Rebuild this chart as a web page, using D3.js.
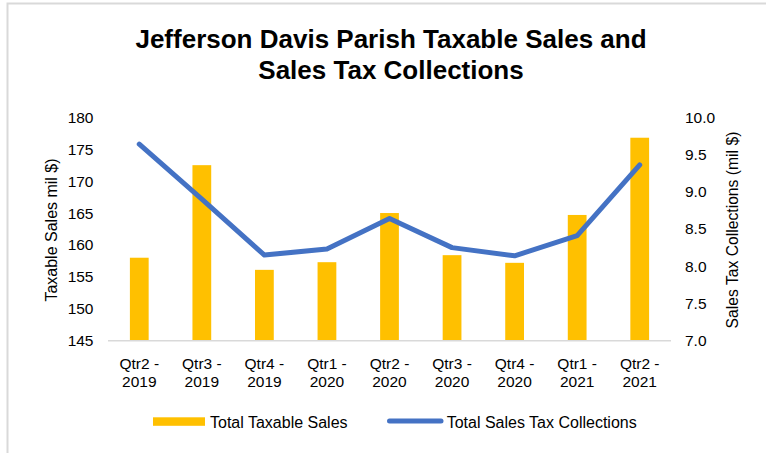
<!DOCTYPE html>
<html>
<head>
<meta charset="utf-8">
<script src="https://cdn.jsdelivr.net/npm/d3@7/dist/d3.min.js"></script>
<style>
  html, body { margin: 0; padding: 0; background: #fff; }
  svg { display: block; font-family: "Liberation Sans", Arial, sans-serif; }
</style>
</head>
<body>
<svg id="chart" width="766" height="453"></svg>
<script>
// Quarterly categories (two-line labels)
const quarters = ["Qtr2 - 2019", "Qtr3 - 2019", "Qtr4 - 2019", "Qtr1 - 2020", "Qtr2 - 2020",
                  "Qtr3 - 2020", "Qtr4 - 2020", "Qtr1 - 2021", "Qtr2 - 2021"];
// Total taxable sales, millions of dollars (left axis)
const taxableSales = [158.0, 172.5, 156.1, 157.3, 165.0, 158.4, 157.2, 164.7, 176.8];
// Total sales tax collections, millions of dollars (right axis)
const taxCollections = [9.64, 8.90, 8.15, 8.23, 8.64, 8.25, 8.14, 8.41, 9.36];
// Axis ticks
const leftTicks = [145, 150, 155, 160, 165, 170, 175, 180];
const rightTicks = [7.0, 7.5, 8.0, 8.5, 9.0, 9.5, 10.0];

const svg = d3.select("#chart");
const barColor = "#FFC000";
const lineColor = "#4472C4";
const fontFamily = "Liberation Sans, Arial, sans-serif";

// Outer chart frame
svg.append("rect")
  .attr("x", 7.5).attr("y", 3.5)
  .attr("width", 800).attr("height", 500)
  .attr("fill", "none").attr("stroke", "#d9d9d9").attr("stroke-width", 2);

// Title
const title = svg.append("text")
  .attr("text-anchor", "middle")
  .attr("font-size", 26).attr("font-weight", "bold").attr("fill", "#000");
title.append("tspan").attr("x", 391).attr("y", 48).text("Jefferson Davis Parish Taxable Sales and");
title.append("tspan").attr("x", 391).attr("y", 79).text("Sales Tax Collections");

const plot = { left: 108, right: 671, top: 117.3, bottom: 340.7 };

const x = d3.scaleBand().domain(quarters).range([plot.left, plot.right]).paddingInner(0.7).paddingOuter(0.35);
const yL = d3.scaleLinear().domain([145, 180]).range([plot.bottom, plot.top]);
const yR = d3.scaleLinear().domain([7, 10]).range([plot.bottom, plot.top]);

// Bars
svg.append("g").selectAll("rect")
  .data(quarters)
  .join("rect")
  .attr("x", d => x(d))
  .attr("width", x.bandwidth())
  .attr("y", (d, i) => yL(taxableSales[i]))
  .attr("height", (d, i) => yL(145) - yL(taxableSales[i]))
  .attr("fill", barColor);

// Category axis line
svg.append("line")
  .attr("x1", plot.left).attr("x2", plot.right)
  .attr("y1", plot.bottom).attr("y2", plot.bottom)
  .attr("stroke", "#d9d9d9").attr("stroke-width", 1.5);

// Category labels (two lines)
const catG = svg.append("g").attr("font-size", 15.5).attr("fill", "#000");
quarters.forEach(q => {
  const parts = q.split(" - ");
  const cx = x(q) + x.bandwidth() / 2;
  const t = catG.append("text").attr("text-anchor", "middle").attr("fill", "#000");
  t.append("tspan").attr("x", cx).attr("y", 368.5).text(parts[0] + " -");
  t.append("tspan").attr("x", cx).attr("y", 386.5).text(parts[1]);
});

// Left axis
const leftAxis = svg.append("g")
  .attr("transform", `translate(93.5,0)`)
  .call(d3.axisLeft(yL).tickValues(leftTicks).tickSize(0).tickPadding(0).tickFormat(d3.format("d")));
leftAxis.select(".domain").remove();
leftAxis.selectAll("text").attr("font-size", 15.5).attr("fill", "#000").attr("font-family", fontFamily);

// Right axis
const rightAxis = svg.append("g")
  .attr("transform", `translate(685,0)`)
  .call(d3.axisRight(yR).tickValues(rightTicks).tickSize(0).tickPadding(0).tickFormat(d3.format(".1f")));
rightAxis.select(".domain").remove();
rightAxis.selectAll("text").attr("font-size", 15.5).attr("fill", "#000").attr("font-family", fontFamily);

// Axis titles
svg.append("text")
  .attr("transform", "translate(57,230) rotate(-90)")
  .attr("text-anchor", "middle").attr("font-size", 16).attr("fill", "#000")
  .text("Taxable Sales mil $)");
svg.append("text")
  .attr("transform", "translate(738,230) rotate(-90)")
  .attr("text-anchor", "middle").attr("font-size", 15.7).attr("fill", "#000")
  .text("Sales Tax Collections (mil $)");

// Collections line
const line = d3.line()
  .x((d, i) => x(quarters[i]) + x.bandwidth() / 2)
  .y(d => yR(d));
svg.append("path")
  .datum(taxCollections)
  .attr("d", line)
  .attr("fill", "none")
  .attr("stroke", lineColor)
  .attr("stroke-width", 5)
  .attr("stroke-linecap", "round")
  .attr("stroke-linejoin", "round");

// Legend
const legend = svg.append("g").attr("font-size", 16).attr("fill", "#000");
legend.append("rect").attr("x", 153).attr("y", 417.3).attr("width", 52).attr("height", 8.5).attr("fill", barColor);
legend.append("text").attr("x", 210).attr("y", 427.5).text("Total Taxable Sales");
legend.append("line").attr("x1", 389.5).attr("x2", 441).attr("y1", 421).attr("y2", 421)
  .attr("stroke", lineColor).attr("stroke-width", 5).attr("stroke-linecap", "round");
legend.append("text").attr("x", 446.7).attr("y", 427.5).text("Total Sales Tax Collections");
</script>
</body>
</html>
